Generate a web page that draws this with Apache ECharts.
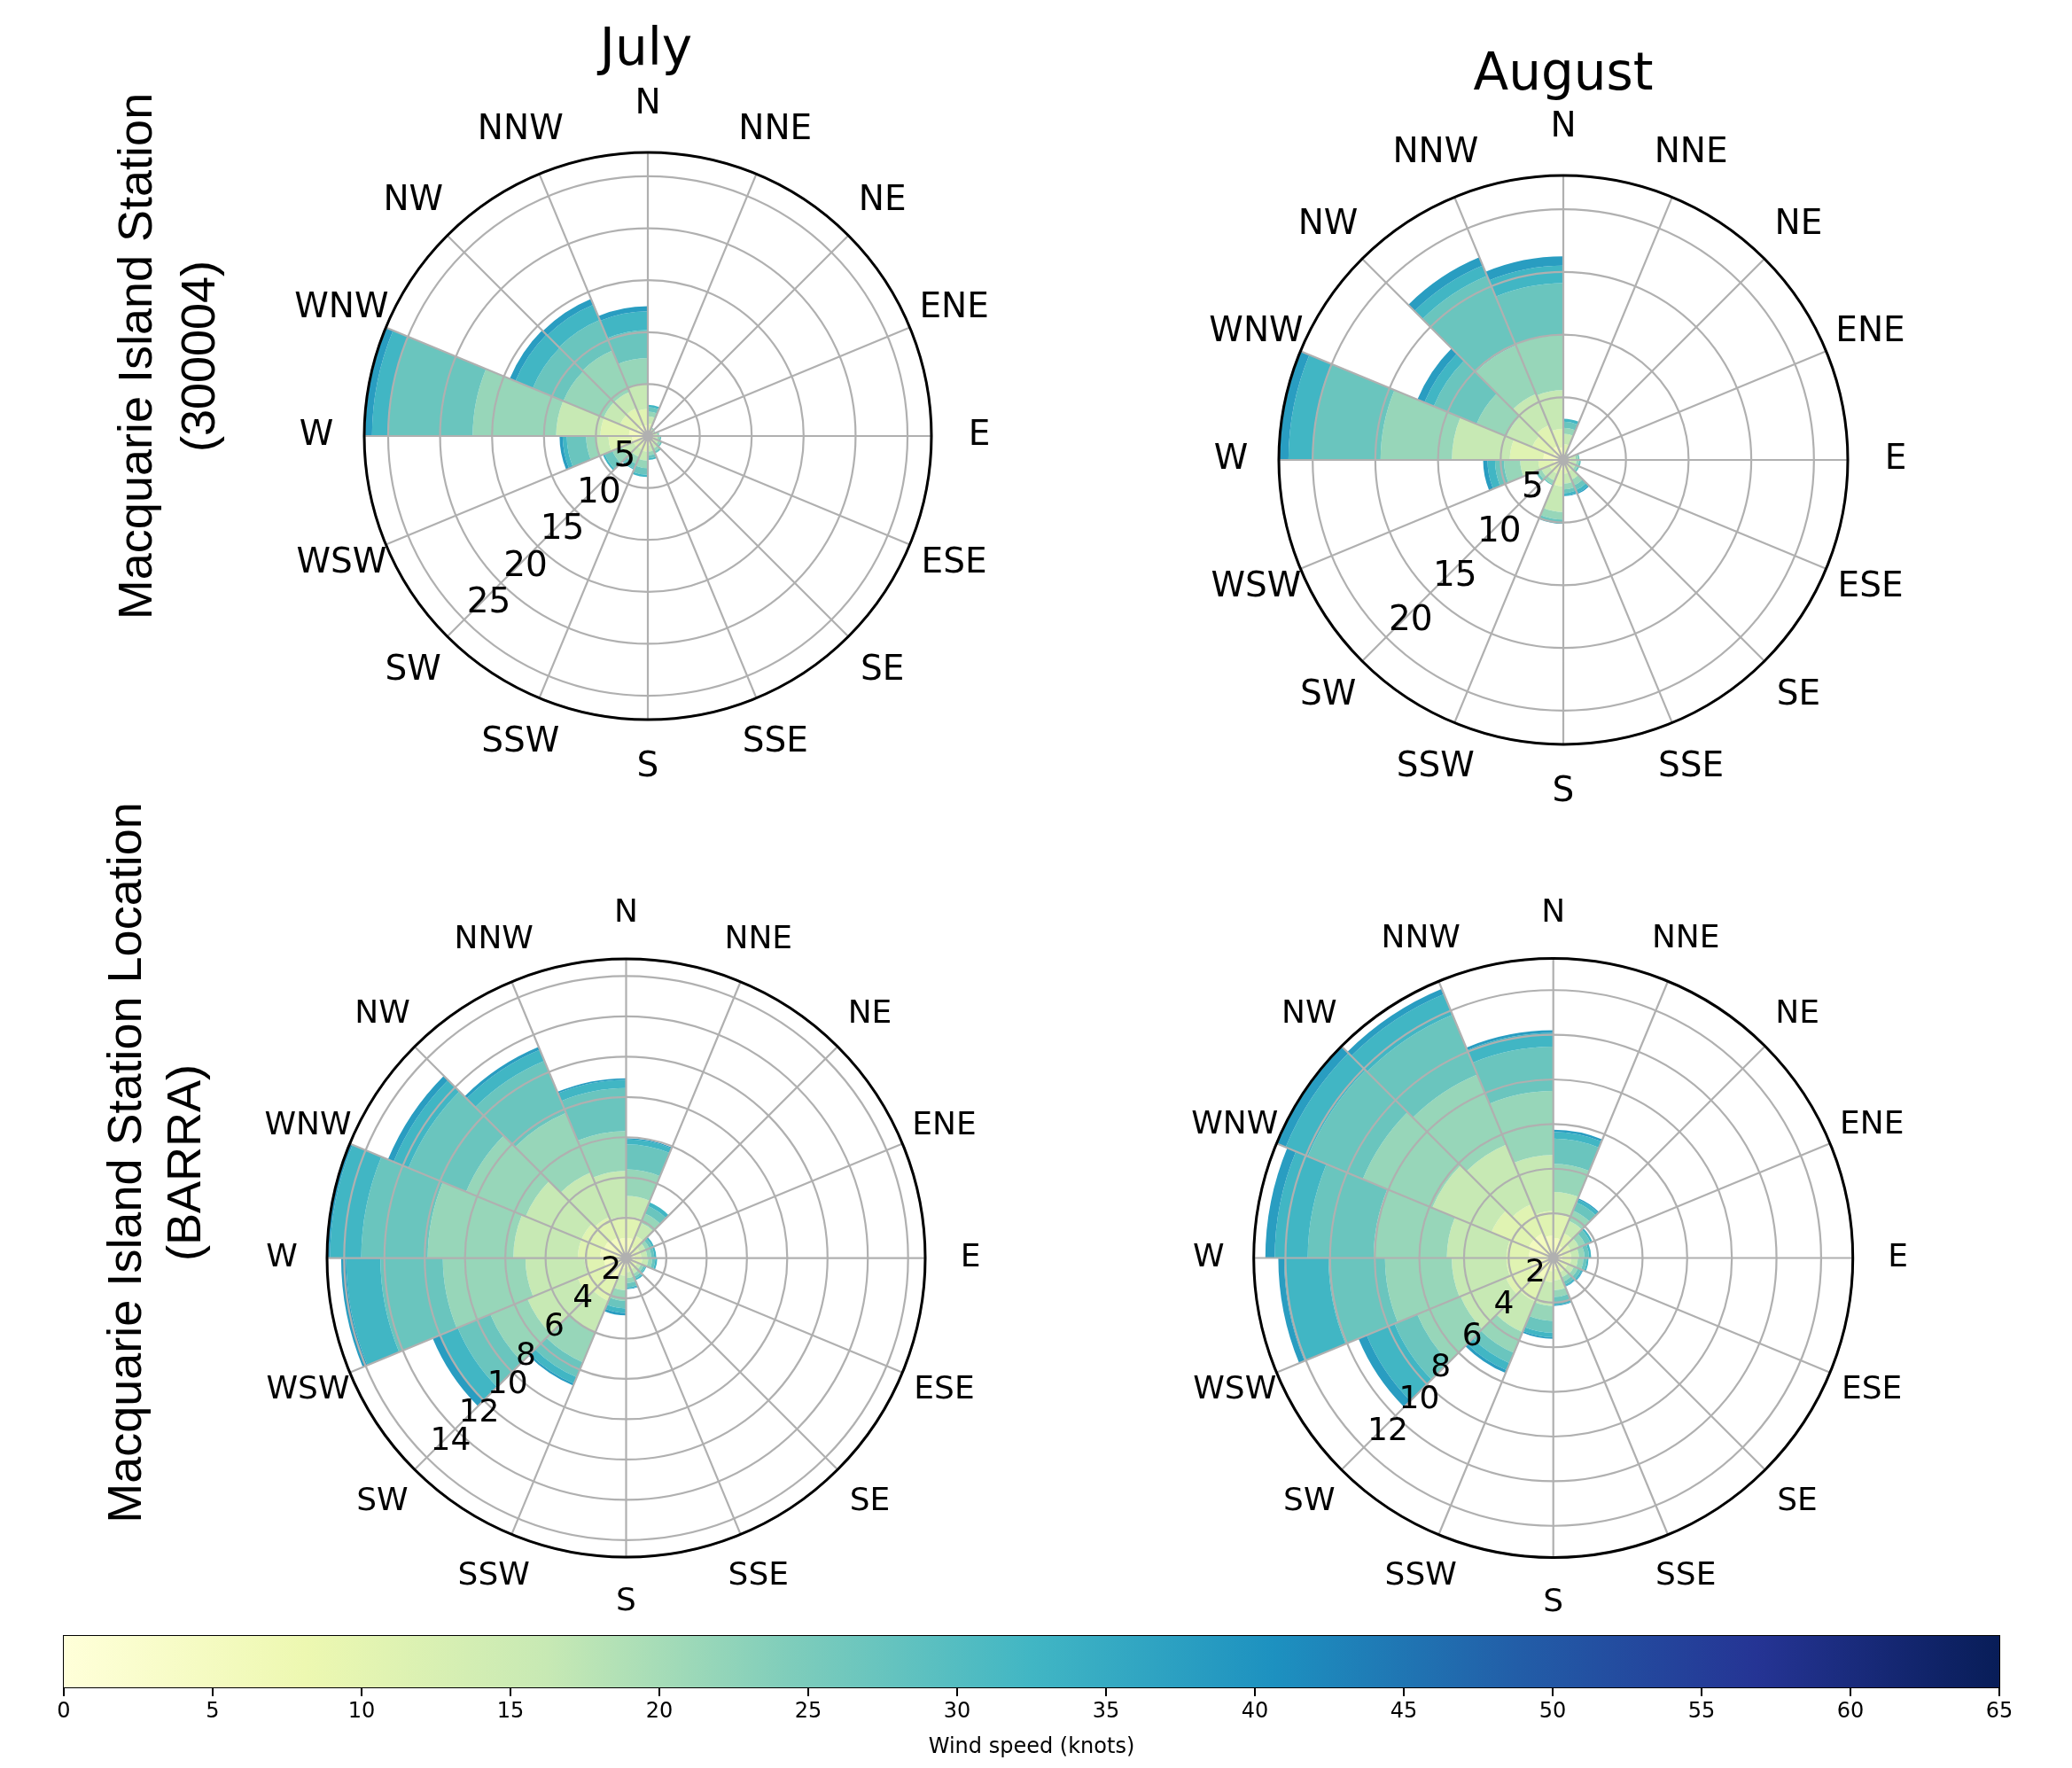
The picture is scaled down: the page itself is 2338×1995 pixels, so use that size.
<!DOCTYPE html>
<html>
<head>
<meta charset="utf-8">
<title>Macquarie Island wind roses</title>
<script src="https://cdn.jsdelivr.net/npm/echarts@6/dist/echarts.min.js"></script>
<style>
  html, body { margin: 0; padding: 0; background: #fff; }
  #chart { width: 2338px; height: 1995px; }
</style>
</head>
<body>
<div id="chart"></div>
<script>
// each bar covers the sector from this direction clockwise to the next one
const directions = ['N', 'NNE', 'NE', 'ENE', 'E', 'ESE', 'SE', 'SSE',
                    'S', 'SSW', 'SW', 'WSW', 'W', 'WNW', 'NW', 'NNW']
// wind speed bins (knots), one row per bin in the arrays below
const speedBins = ['5-10', '10-15', '15-20', '20-25', '25-30', '30-35', '35-40']
const colorbarRange = [0, 65]

// frequency (%) per bin and direction
const julyStation = [
  [0.48, 0.2, 0.2, 0.24, 0.24, 0.28, 0.32, 0.36, 0.6, 0.56, 0.6, 1.52, 1.82, 1.16, 1.16, 1.04],
  [0.72, 0.3, 0.3, 0.36, 0.36, 0.42, 0.48, 0.54, 0.9, 0.84, 0.9, 2.28, 2.74, 1.74, 1.74, 1.56],
  [0.7, 0.25, 0.2, 0.3, 0.35, 0.4, 0.5, 0.6, 0.87, 0.8, 1.2, 1.16, 4.27, 1.7, 1.7, 2.4],
  [0.45, 0.15, 0.1, 0.15, 0.2, 0.25, 0.3, 0.35, 0.73, 0.7, 1.0, 0.98, 8.03, 4.2, 4.3, 2.5],
  [0.43, 0, 0, 0.05, 0.15, 0.15, 0.2, 0.3, 0.64, 0.5, 0.8, 1.86, 8.14, 3.2, 3.2, 2.7],
  [0.22, 0, 0, 0, 0, 0, 0, 0.15, 0.2, 0.1, 0.2, 0.4, 1.55, 1.8, 1.6, 1.8],
  [0, 0, 0, 0, 0, 0, 0, 0, 0, 0, 0, 0.3, 0.75, 0.6, 0.6, 0.5]
]
const augustStation = [
  [0.5, 0.16, 0.14, 0.24, 0.24, 0.26, 0.4, 0.44, 0.8, 0.48, 0.48, 0.8, 1.6, 0.9, 1.2, 1.0],
  [0.75, 0.24, 0.21, 0.36, 0.36, 0.39, 0.6, 0.66, 1.3, 0.72, 0.72, 1.2, 2.67, 1.8, 1.8, 1.5],
  [0.84, 0.15, 0.1, 0.4, 0.45, 0.4, 0.7, 0.8, 2.06, 0.6, 0.7, 1.44, 4.62, 2.2, 2.7, 3.07],
  [0.48, 0.05, 0.05, 0.2, 0.2, 0.2, 0.5, 0.45, 0.6, 0.3, 0.3, 1.3, 5.69, 2.6, 4.2, 4.39],
  [0.48, 0, 0, 0.1, 0.15, 0.15, 0.4, 0.3, 0.24, 0.1, 0.2, 0.71, 5.45, 3.7, 6.0, 4.14],
  [0.24, 0, 0, 0, 0, 0, 0.25, 0.2, 0.1, 0, 0, 0.6, 1.9, 0.8, 0.9, 1.4],
  [0, 0, 0, 0, 0, 0, 0.1, 0.05, 0, 0, 0, 0.35, 0.77, 0.6, 0.7, 0.75]
]
const julyBarra = [
  [1.0, 0.6, 0.4, 0.4, 0.4, 0.3, 0.3, 0.4, 0.5, 1.2, 1.2, 1.1, 1.3, 1.2, 1.1, 1.0],
  [1.06, 0.6, 0.35, 0.35, 0.4, 0.3, 0.3, 0.3, 0.38, 1.1, 1.4, 0.96, 1.1, 1.2, 1.1, 1.06],
  [1.02, 0.7, 0.3, 0.3, 0.3, 0.2, 0.25, 0.3, 0.72, 1.7, 2.7, 2.94, 3.2, 3.0, 2.4, 2.27],
  [1.32, 0.5, 0.2, 0.2, 0.2, 0.15, 0.15, 0.25, 0.53, 1.6, 2.0, 4.1, 4.25, 3.2, 3.2, 1.98],
  [1.25, 0.4, 0.15, 0.15, 0.15, 0.1, 0.12, 0.2, 0.37, 0.8, 1.75, 3.1, 3.3, 3.1, 2.8, 2.13],
  [0.25, 0.2, 0.1, 0.1, 0.1, 0.05, 0.08, 0.07, 0.22, 0.35, 0.95, 1.7, 1.55, 0.8, 0.6, 0.41],
  [0.05, 0, 0, 0, 0, 0, 0, 0.03, 0.13, 0.1, 0.4, 0.25, 0.15, 0.3, 0.15, 0.08]
]
const augustBarra = [
  [0.9, 0.6, 0.45, 0.4, 0.4, 0.35, 0.35, 0.5, 0.6, 1.0, 1.1, 1.0, 1.1, 1.2, 1.2, 1.0],
  [1.06, 0.6, 0.4, 0.4, 0.4, 0.35, 0.35, 0.5, 0.49, 1.1, 1.2, 1.1, 1.0, 1.8, 1.4, 1.1],
  [1.0, 0.6, 0.4, 0.35, 0.3, 0.3, 0.25, 0.45, 1.06, 1.5, 2.2, 2.45, 2.67, 2.87, 2.9, 2.52],
  [1.26, 0.5, 0.3, 0.25, 0.25, 0.2, 0.2, 0.3, 0.67, 1.0, 2.1, 2.99, 3.28, 3.37, 3.4, 2.86],
  [1.13, 0.4, 0.25, 0.2, 0.15, 0.15, 0.15, 0.25, 0.53, 0.5, 1.1, 2.53, 2.95, 2.66, 2.9, 1.99],
  [0.3, 0.15, 0.1, 0.1, 0.08, 0.07, 0.08, 0.12, 0.2, 0.35, 1.35, 1.99, 1.48, 1.08, 1.0, 0.61],
  [0.1, 0.05, 0, 0, 0, 0.03, 0.02, 0.03, 0.07, 0.13, 0.4, 0.26, 0.42, 0.44, 0.25, 0.12]
]

// YlGnBu sampled at the bin positions, and the full map for the colour bar
const binColors = ['#f3fabe', '#e0f3b2', '#c7e9b4', '#97d6b9', '#6ac5be', '#41b6c4', '#299dc1']
const ylGnBu = ['#ffffd9', '#edf8b1', '#c7e9b4', '#7fcdbb', '#41b6c4', '#1d91c0', '#225ea8', '#253494', '#081d58']

const roses = [
  { data: julyStation, center: [731, 492], radius: 320, step: 5, font: 39, dirMargin: 53, pad: [0, 0, 3, 3] },
  { data: augustStation, center: [1764, 519], radius: 321, step: 5, font: 39, dirMargin: 53, pad: [0, 0, 3, 3] },
  { data: julyBarra, center: [706.5, 1419.6], radius: 337.5, step: 2, font: 36, dirMargin: 50, pad: [0, 0, 4, 4] },
  { data: augustBarra, center: [1752.7, 1419.5], radius: 338, step: 2, font: 36, dirMargin: 50, pad: [0, 0, 4, 4] }
]

const FONT = 'DejaVu Sans'
const GRID_GREY = '#b0b0b0'

const polar = []
const angleAxis = []
const radiusAxis = []
const series = []

roses.forEach((rose, k) => {
  const totals = directions.map((d, i) => rose.data.reduce((s, row) => s + row[i], 0))
  const rMax = Math.max(...totals)
  const a = k * 2
  const b = k * 2 + 1

  polar.push({ center: rose.center, radius: rose.radius })
  polar.push({ center: rose.center, radius: rose.radius })

  // bars polar: sectors, grid circles and spokes drawn over the bars
  angleAxis.push({
    polarIndex: a,
    type: 'category',
    data: directions,
    startAngle: 90,
    clockwise: true,
    boundaryGap: true,
    z: 4,
    axisLine: { show: true, lineStyle: { color: '#000', width: 3 } },
    axisTick: { show: false },
    axisLabel: { show: false },
    splitLine: { show: true, lineStyle: { color: GRID_GREY, width: 2.2 } }
  })
  radiusAxis.push({
    polarIndex: a,
    type: 'value',
    min: 0,
    max: rMax,
    interval: rose.step,
    z: 3,
    axisLine: { show: false },
    axisTick: { show: false },
    axisLabel: { show: false },
    splitLine: { show: true, lineStyle: { color: GRID_GREY, width: 2.2 } }
  })

  // label polar: starts at SW so the radial labels run down-left
  // direction names sit in a tiny box so they end up centred on their spot
  angleAxis.push({
    polarIndex: b,
    type: 'value',
    min: 0,
    max: 360,
    interval: 22.5,
    startAngle: 225,
    clockwise: true,
    z: 5,
    axisLine: { show: false },
    axisTick: { show: false },
    splitLine: { show: false },
    axisLabel: {
      margin: rose.dirMargin,
      formatter: v => '{d|' + directions[(Math.round(v / 22.5) + 10) % 16] + '}',
      rich: {
        d: { width: 2, height: 2, lineHeight: 2, align: 'center', verticalAlign: 'middle',
             fontSize: rose.font, fontFamily: FONT, color: '#000' }
      }
    }
  })
  radiusAxis.push({
    polarIndex: b,
    type: 'value',
    min: 0,
    max: rMax,
    interval: rose.step,
    z: 5,
    axisLine: { show: false },
    axisTick: { show: false },
    splitLine: { show: false },
    axisLabel: {
      margin: 0,
      align: 'left',
      verticalAlign: 'bottom',
      padding: rose.pad,
      lineHeight: Math.round(rose.font * 0.78),
      fontSize: rose.font,
      fontFamily: FONT,
      color: '#000',
      formatter: v => {
        const n = v / rose.step
        return (v > 0 && v < rMax - 1e-6 && Math.abs(n - Math.round(n)) < 1e-6) ? String(Math.round(v)) : ''
      }
    }
  })

  speedBins.forEach((bin, j) => {
    series.push({
      type: 'bar',
      name: bin + ' kn',
      coordinateSystem: 'polar',
      polarIndex: a,
      stack: 'rose' + k,
      data: rose.data[j],
      barCategoryGap: '0%',
      itemStyle: { color: binColors[j] },
      silent: true,
      z: 2
    })
  })
})

// colour bar
series.push({
  type: 'bar',
  xAxisIndex: 0,
  yAxisIndex: 0,
  data: [colorbarRange[1]],
  barWidth: '100%',
  silent: true,
  itemStyle: {
    color: new echarts.graphic.LinearGradient(0, 0, 1, 0,
      ylGnBu.map((c, i) => ({ offset: i / (ylGnBu.length - 1), color: c })))
  }
})

const rotatedText = (text, x, y, size) => ({
  type: 'text',
  x: x,
  y: y,
  rotation: Math.PI / 2,
  style: { text: text, fontSize: size, fontFamily: 'Liberation Sans', fill: '#000',
           align: 'center', verticalAlign: 'middle' }
})
const titleText = (text, x, y) => ({
  type: 'text',
  x: x,
  y: y,
  style: { text: text, fontSize: 58, fontFamily: FONT, fill: '#000', align: 'center', verticalAlign: 'middle' }
})

const option = {
  animation: false,
  backgroundColor: '#fff',
  polar: polar,
  angleAxis: angleAxis,
  radiusAxis: radiusAxis,
  grid: [{
    left: 72, top: 1846, width: 2184, height: 58,
    show: true, borderColor: '#000', borderWidth: 2, backgroundColor: 'transparent'
  }],
  xAxis: [{
    gridIndex: 0,
    type: 'value',
    min: colorbarRange[0],
    max: colorbarRange[1],
    interval: 5,
    axisLine: { show: false },
    axisTick: { show: true, length: 10, lineStyle: { color: '#000', width: 2 } },
    axisLabel: { fontSize: 24, margin: 16, color: '#000', fontFamily: FONT },
    splitLine: { show: false },
    name: 'Wind speed (knots)',
    nameLocation: 'middle',
    nameGap: 56,
    nameTextStyle: { fontSize: 24, color: '#000', fontFamily: FONT }
  }],
  yAxis: [{ gridIndex: 0, type: 'category', data: ['speed'], show: false }],
  series: series,
  graphic: [
    titleText('July', 729, 58),
    titleText('August', 1764, 86),
    rotatedText('Macquarie Island Station', 156, 402, 54),
    rotatedText('(300004)', 227, 402, 54),
    rotatedText('Macquarie Island Station Location', 144, 1312, 54),
    rotatedText('(BARRA)', 211, 1312, 54)
  ]
}

const chart = echarts.init(document.getElementById('chart'))
chart.setOption(option)
window.addEventListener('resize', () => chart.resize())
</script>
</body>
</html>
